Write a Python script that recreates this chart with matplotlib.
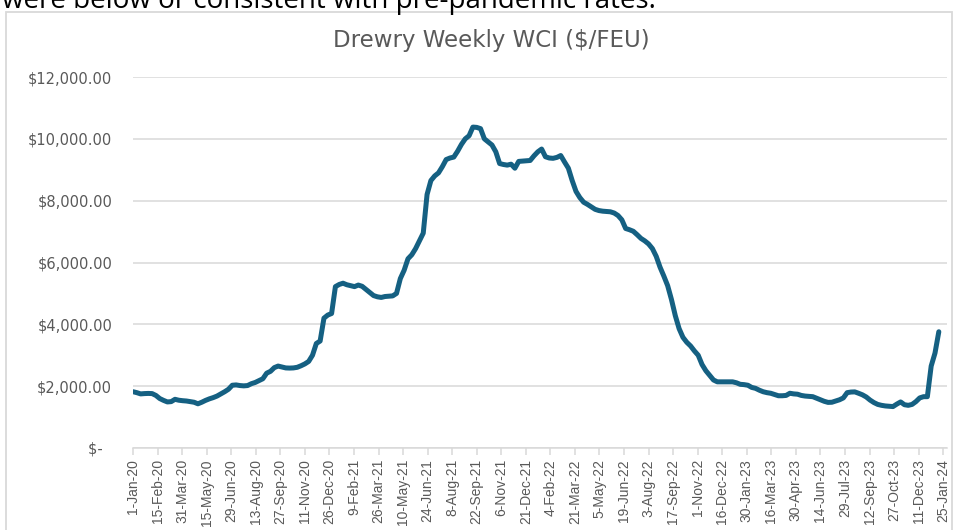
import matplotlib
matplotlib.use("Agg")
import matplotlib.pyplot as plt
from matplotlib.patches import Rectangle
from matplotlib.ticker import FuncFormatter
import pandas as pd

# ---- data (weekly Drewry WCI composite, $/FEU) ----
start_date = "2020-01-01"
wci_values = [
    1821, 1790, 1750, 1760, 1765, 1760, 1700, 1600, 1540, 1490,
    1500, 1575, 1545, 1530, 1520, 1500, 1480, 1430, 1480, 1540,
    1590, 1630, 1680, 1750, 1820, 1900, 2030, 2040, 2020, 2010,
    2020, 2080, 2120, 2180, 2240, 2420, 2480, 2600, 2650, 2620,
    2590, 2585, 2590, 2610, 2660, 2720, 2800, 3000, 3380, 3460,
    4200, 4300, 4350, 5220, 5290, 5330, 5280, 5250, 5220, 5270,
    5230, 5130, 5030, 4930, 4890, 4870, 4900, 4910, 4920, 5000,
    5480, 5750, 6120, 6250, 6450, 6700, 6950, 8200, 8650, 8800,
    8900, 9100, 9330, 9380, 9410, 9600, 9820, 10000, 10100, 10380,
    10370, 10330, 10000, 9900, 9800, 9580, 9200, 9170, 9150, 9180,
    9050, 9270, 9280, 9290, 9300, 9450, 9580, 9670, 9420, 9380,
    9370, 9400, 9460, 9250, 9050, 8650, 8300, 8100, 7950, 7880,
    7800, 7720, 7680, 7660, 7650, 7640, 7600, 7520, 7380, 7100,
    7060, 7010, 6900, 6780, 6700, 6600, 6450, 6200, 5850, 5560,
    5250, 4800, 4280, 3860, 3580, 3420, 3300, 3140, 3000, 2700,
    2500, 2350, 2200, 2140, 2140, 2140, 2140, 2140, 2110, 2060,
    2050, 2030, 1960, 1930, 1870, 1820, 1790, 1770, 1730, 1690,
    1690, 1700, 1770, 1750, 1740, 1700, 1680, 1670, 1660, 1610,
    1560, 1510, 1475, 1480, 1520, 1560, 1620, 1790, 1810, 1815,
    1770, 1720, 1650, 1550, 1470, 1410, 1380, 1360, 1350, 1340,
    1420, 1490, 1400, 1380, 1410, 1500, 1620, 1660, 1660, 2650,
    3070, 3760,
]
y_ticks = [0, 2000, 4000, 6000, 8000, 10000, 12000]
tick_start = "2020-01-01"
tick_end = "2024-01-25"
tick_step_days = 45
x_end = "2024-02-01"

title = "Drewry Weekly WCI ($/FEU)"
caption = "were below or consistent with pre-pandemic rates."

dates = pd.date_range(start_date, periods=len(wci_values), freq="7D")
tick_dates = pd.date_range(tick_start, tick_end, freq=f"{tick_step_days}D")

# ---- figure ----
W, H = 958, 530
fig = plt.figure(figsize=(W / 100, H / 100), dpi=100)
fig.patch.set_facecolor("white")

# chart frame (partially cropped in the reference screenshot)
fig.patches.append(Rectangle((6 / W, -0.05), (952 - 6) / W, 1 - 12 / H + 0.05,
                             transform=fig.transFigure, fill=False,
                             edgecolor="#d9d9d9", linewidth=1.3, clip_on=False))

# cropped caption text at the very top of the screenshot
fig.text(2 / W, 1 - 8 / H, caption, fontsize=20, family="Open Sans",
         color="black", ha="left", va="baseline")

fig.text(491 / W, 1 - 41 / H, title, fontsize=16.5, family="DejaVu Sans",
         color="#595959", ha="center", va="center")

ax = fig.add_axes([133 / W, 1 - 448 / H, (947 - 133) / W, (448 - 77) / H])
ax.plot(dates, wci_values, color="#156082", linewidth=3.6,
        solid_capstyle="round", solid_joinstyle="round", zorder=3)

ax.set_ylim(0, 12000)
ax.set_yticks(y_ticks)
ax.yaxis.set_major_formatter(FuncFormatter(
    lambda v, p: "$-  " if v == 0 else f"${v:,.2f}"))
ax.grid(axis="y", color="#d9d9d9", linewidth=1.1)
ax.set_axisbelow(True)

ax.set_xlim(pd.Timestamp(start_date), pd.Timestamp(x_end))
ax.set_xticks(tick_dates)
ax.set_xticklabels([f"{d.day}-{d.strftime('%b-%y')}" for d in tick_dates],
                   rotation=90)

for s in ["left", "right", "top"]:
    ax.spines[s].set_visible(False)
ax.spines["bottom"].set_color("#d9d9d9")
ax.spines["bottom"].set_linewidth(1.1)

ax.tick_params(axis="y", length=0, pad=15, labelsize=10.5, labelcolor="#595959")
ax.tick_params(axis="x", length=5, width=1.1, color="#d9d9d9", pad=3,
               labelsize=10, labelcolor="#595959")
for lab in ax.get_yticklabels():
    lab.set_family("DejaVu Sans")
for lab in ax.get_xticklabels():
    lab.set_family("Liberation Sans")

fig.savefig("out.png", dpi=100)
